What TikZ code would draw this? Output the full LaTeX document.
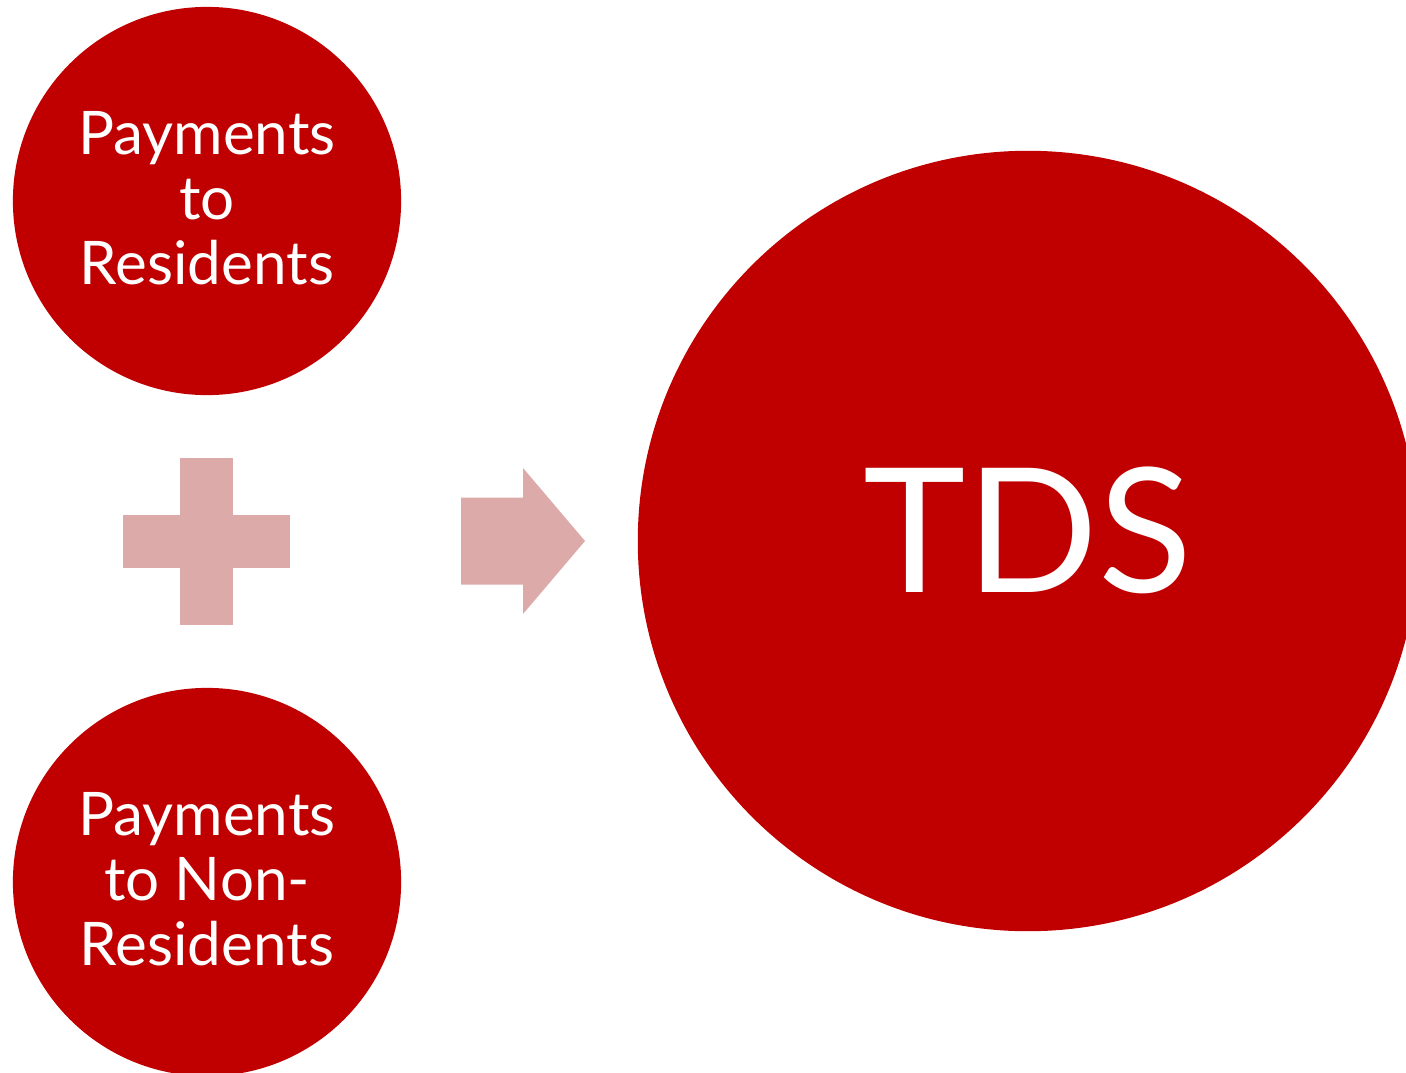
\documentclass[tikz,border=0pt]{standalone}
\usepackage{fontspec}
\setmainfont{Lato}
\usepackage{tikz}
\usetikzlibrary{positioning}
\definecolor{tdsred}{HTML}{C00000}
\definecolor{softrose}{HTML}{DDAAAA}
\tikzset{
  paynode/.style={circle, fill=tdsred, text=white, minimum size=3.88cm, inner sep=0pt, align=center, font=\fontsize{17.1}{18.5}\selectfont, text depth=0.06cm},
  tdsnode/.style={circle, fill=tdsred, text=white, minimum size=7.8cm, inner sep=0pt, font=\fontsize{49.3}{60}\selectfont, text depth=0.22cm},
  roseshape/.style={fill=softrose, draw=none}
}
\begin{document}
\begin{tikzpicture}[x=0.01cm, y=-0.01cm]
  \useasboundingbox (0,0) rectangle (1406,1073);
  \clip (0,0) rectangle (1406,1073);
  \node[paynode] (res) at (207,201) {Payments\\to\\Residents};
  \node[paynode] (nonres) at (207,882) {Payments\\to Non-\\Residents};
  \node[tdsnode] (tds) at (1028,541) {TDS};
  \coordinate (plus) at (206.5,541.5);
  \coordinate (arrow) at (523,541);
  \fill[roseshape, shift={(plus)}] (-26.5,-83.5) rectangle (26.5,83.5);
  \fill[roseshape, shift={(plus)}] (-83.5,-26.5) rectangle (83.5,26.5);
  \fill[roseshape, shift={(arrow)}] (-62,-43.5) -- (0,-43.5) -- (0,-73) -- (62,0)
    -- (0,73) -- (0,43.5) -- (-62,43.5) -- cycle;
\end{tikzpicture}
\end{document}
